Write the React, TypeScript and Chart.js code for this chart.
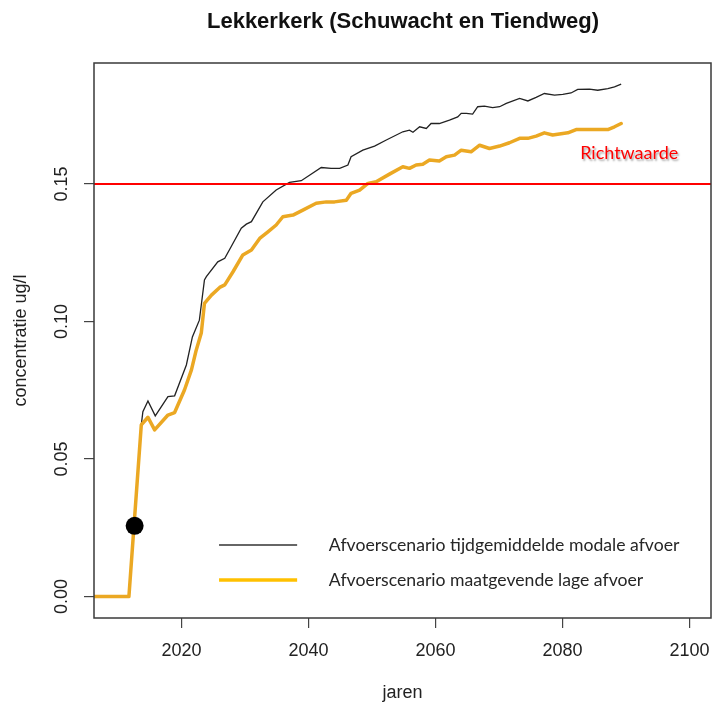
import { useEffect, useRef } from 'react';
import { Chart, registerables } from 'chart.js';

Chart.register(...registerables);

const TITLE = 'Lekkerkerk (Schuwacht en Tiendweg)';
const X_TITLE = 'jaren';
const Y_TITLE = 'concentratie ug/l';
const X_TICKS = [2020, 2040, 2060, 2080, 2100];
const Y_TICKS = [0, 0.05, 0.1, 0.15];
const Y_TICK_LABELS = ['0.00', '0.05', '0.10', '0.15'];
const MODAL_LABEL = 'Afvoerscenario tijdgemiddelde modale afvoer';
const LAGE_LABEL = 'Afvoerscenario maatgevende lage afvoer';
const RICHT_LABEL = 'Richtwaarde';
const RICHTWAARDE = 0.15;

const modalYears = [
  2000, 2011.7, 2013.65, 2013.9, 2014.7, 2015.85, 2017.85, 2018.9, 2020.75, 2021.7,
  2022.8, 2023.6, 2023.9, 2025.7, 2026.8, 2027.8, 2029.4, 2030.2, 2031.0, 2032.8,
  2034.9, 2037.0, 2038.85, 2040.15, 2042.0, 2043.55, 2044.9, 2046.2, 2046.7, 2048.55,
  2050.4, 2052.25, 2054.85, 2055.9, 2056.45, 2057.5, 2058.55, 2059.3, 2060.6, 2062.2,
  2063.5, 2064.05, 2064.85, 2065.85, 2066.65, 2067.7, 2069.0, 2070.1, 2071.15, 2073.25,
  2074.55, 2075.85, 2077.15, 2078.75, 2080.05, 2081.35, 2082.4, 2084.25, 2085.55, 2087.15,
  2088.2, 2089.25,
];
const modalValues = [
  0, 0, 0.0624, 0.0672, 0.0711, 0.0657, 0.0727, 0.073, 0.0842, 0.0944,
  0.1005, 0.1151, 0.1163, 0.1217, 0.123, 0.1272, 0.1339, 0.1354, 0.1363, 0.1435,
  0.1478, 0.1506, 0.1512, 0.1532, 0.156, 0.1557, 0.1557, 0.1569, 0.1599, 0.1623,
  0.1638, 0.166, 0.169, 0.1696, 0.1688, 0.1708, 0.1702, 0.172, 0.172, 0.1732,
  0.1744, 0.1757, 0.1757, 0.1754, 0.1781, 0.1783, 0.1778, 0.1781, 0.1793, 0.1811,
  0.1802, 0.1815, 0.1829, 0.1823, 0.1826, 0.1831, 0.1844, 0.1845, 0.1841, 0.1847,
  0.1853, 0.1863,
];

const lageYears = [
  2000, 2011.7, 2013.65, 2014.7, 2015.75, 2017.85, 2018.9, 2020.45, 2021.55, 2022.3,
  2023.1, 2023.6, 2024.7, 2026.0, 2026.8, 2028.1, 2029.65, 2031.0, 2032.3, 2033.6,
  2034.9, 2035.95, 2037.55, 2039.1, 2041.2, 2042.8, 2044.1, 2045.95, 2046.7, 2048.05,
  2049.35, 2050.65, 2052.75, 2054.85, 2055.9, 2056.95, 2058.0, 2059.05, 2060.6, 2061.7,
  2063.0, 2064.05, 2065.6, 2066.95, 2068.5, 2070.1, 2071.65, 2073.25, 2074.55, 2075.85,
  2077.15, 2078.45, 2080.05, 2080.85, 2082.15, 2087.15, 2088.2, 2089.25,
];
const lageValues = [
  0, 0, 0.0624, 0.0652, 0.0606, 0.066, 0.0669, 0.0751, 0.0824, 0.0896,
  0.0958, 0.1066, 0.1096, 0.1124, 0.1133, 0.1181, 0.1242, 0.126, 0.1302, 0.1326,
  0.1351, 0.1381, 0.1387, 0.1405, 0.143, 0.1435, 0.1435, 0.1441, 0.1466, 0.1478,
  0.1502, 0.1508, 0.1536, 0.1563, 0.1557, 0.1569, 0.1572, 0.1587, 0.1584, 0.1599,
  0.1605, 0.1623, 0.1617, 0.1641, 0.1629, 0.1638, 0.165, 0.1666, 0.1666, 0.1674,
  0.1686, 0.1678, 0.1684, 0.1686, 0.1698, 0.1698, 0.1708, 0.172,
];

const markerYears = [2012.6];
const markerValues = [0.0257];

const SANS = '"Liberation Sans", Arial, Helvetica, sans-serif';
const CAL = 'Lato, "Open Sans", sans-serif';

const overlay = {
  id: 'overlay',
  afterDraw(chart: any) {
    const { ctx, chartArea: a, scales } = chart;
    const x = scales.x;
    const y = scales.y;
    ctx.save();

    // plot box
    ctx.strokeStyle = '#3a3a3a';
    ctx.lineWidth = 1.5;
    ctx.strokeRect(a.left, a.top, a.right - a.left, a.bottom - a.top);

    // title
    ctx.fillStyle = '#111';
    ctx.font = 'bold 22px ' + SANS;
    ctx.textAlign = 'center';
    ctx.textBaseline = 'middle';
    ctx.fillText(TITLE, 403, 22);

    // y tick labels (rotated, R style)
    ctx.font = '18px ' + SANS;
    ctx.fillStyle = '#222';
    Y_TICKS.forEach((v, i) => {
      const py = y.getPixelForValue(v);
      ctx.save();
      ctx.translate(a.left - 31.5, py);
      ctx.rotate(-Math.PI / 2);
      ctx.fillText(Y_TICK_LABELS[i], 0, 0);
      ctx.restore();
    });

    // legend
    ctx.font = '17px ' + CAL;
    const w1 = ctx.measureText(MODAL_LABEL).width;
    const lsize = (17 * 351) / w1;
    ctx.font = lsize + 'px ' + CAL;
    const lx1 = x.getPixelForValue(2025.9);
    const lx2 = x.getPixelForValue(2038.2);
    const tx = x.getPixelForValue(2043.2);
    const rows = [
      { label: MODAL_LABEL, color: '#333333', width: 1.6, py: 545 },
      { label: LAGE_LABEL, color: '#FFC000', width: 3.5, py: 580 },
    ];
    rows.forEach((r) => {
      ctx.strokeStyle = r.color;
      ctx.lineWidth = r.width;
      ctx.beginPath();
      ctx.moveTo(lx1, r.py);
      ctx.lineTo(lx2, r.py);
      ctx.stroke();
      ctx.fillStyle = '#262626';
      ctx.textAlign = 'left';
      ctx.textBaseline = 'middle';
      ctx.fillText(r.label, tx, r.py);
    });

    // Richtwaarde label
    ctx.font = '17px ' + CAL;
    const w2 = ctx.measureText(RICHT_LABEL).width;
    const rsize = (17 * 98) / w2;
    ctx.font = rsize + 'px ' + CAL;
    ctx.shadowColor = 'rgba(0,0,0,0.35)';
    ctx.shadowOffsetX = 1.5;
    ctx.shadowOffsetY = 1.5;
    ctx.shadowBlur = 2;
    ctx.fillStyle = '#FF0000';
    ctx.textAlign = 'left';
    ctx.textBaseline = 'middle';
    ctx.fillText(RICHT_LABEL, x.getPixelForValue(2082.8), y.getPixelForValue(0.1612));
    ctx.restore();
  },
};

export default function App() {
  const ref = useRef<HTMLCanvasElement | null>(null);

  useEffect(() => {
    document.body.style.margin = '0';
    const canvas = ref.current;
    if (!canvas) return;

    const modalData = modalYears.map((yr, i) => ({ x: yr, y: modalValues[i] }));
    const lageData = lageYears.map((yr, i) => ({ x: yr, y: lageValues[i] }));
    const markerData = markerYears.map((yr, i) => ({ x: yr, y: markerValues[i] }));
    const richtData = [
      { x: 2000, y: RICHTWAARDE },
      { x: 2110, y: RICHTWAARDE },
    ];

    const axisGrid = {
      display: true,
      drawOnChartArea: false,
      drawTicks: true,
      tickLength: 10,
      color: '#444',
      lineWidth: 1.2,
    };

    const chart = new Chart(canvas, {
      type: 'line',
      data: {
        datasets: [
          {
            label: 'marker',
            data: markerData,
            showLine: false,
            pointRadius: 9,
            pointHoverRadius: 9,
            pointBackgroundColor: '#000',
            pointBorderWidth: 0,
            order: 0,
          },
          {
            label: RICHT_LABEL,
            data: richtData,
            borderColor: '#FF0000',
            borderWidth: 2,
            pointRadius: 0,
            order: 1,
          },
          {
            label: LAGE_LABEL,
            data: lageData,
            borderColor: '#EBA823',
            borderWidth: 3.5,
            pointRadius: 0,
            tension: 0,
            borderJoinStyle: 'round',
            borderCapStyle: 'round',
            order: 2,
          },
          {
            label: MODAL_LABEL,
            data: modalData,
            borderColor: '#222',
            borderWidth: 1.3,
            pointRadius: 0,
            tension: 0,
            order: 3,
          },
        ],
      },
      options: {
        responsive: false,
        animation: false,
        devicePixelRatio: 1,
        events: [],
        layout: { autoPadding: false, padding: { top: 63, right: 1, left: 0, bottom: 0 } },
        plugins: {
          legend: { display: false },
          tooltip: { enabled: false },
          title: { display: false },
        },
        scales: {
          x: {
            type: 'linear',
            min: 2006.2,
            max: 2103.4,
            afterBuildTicks: (s: any) => {
              s.ticks = X_TICKS.map((v) => ({ value: v }));
            },
            afterFit: (s: any) => {
              s.height = 88;
              s.paddingLeft = 0;
              s.paddingRight = 0;
            },
            grid: axisGrid,
            border: { display: false },
            ticks: {
              autoSkip: false,
              maxRotation: 0,
              minRotation: 0,
              padding: 12,
              color: '#222',
              font: { family: SANS, size: 18 },
              callback: (v: any) => String(v),
            },
            title: {
              display: true,
              text: X_TITLE,
              color: '#222',
              font: { family: SANS, size: 18 },
              padding: { top: 0, bottom: 2 },
            },
          },
          y: {
            type: 'linear',
            min: -0.0078,
            max: 0.194,
            afterBuildTicks: (s: any) => {
              s.ticks = Y_TICKS.map((v) => ({ value: v }));
            },
            afterFit: (s: any) => {
              s.width = 94;
              s.paddingTop = 0;
              s.paddingBottom = 0;
            },
            grid: axisGrid,
            border: { display: false },
            ticks: { display: false },
            title: {
              display: true,
              text: Y_TITLE,
              color: '#222',
              font: { family: SANS, size: 18 },
              padding: { top: 10, bottom: 0 },
            },
          },
        },
      },
      plugins: [overlay],
    } as any);

    return () => chart.destroy();
  }, []);

  return (
    <canvas
      ref={ref}
      width={712}
      height={706}
      style={{ display: 'block', width: 712, height: 706 }}
    />
  );
}
